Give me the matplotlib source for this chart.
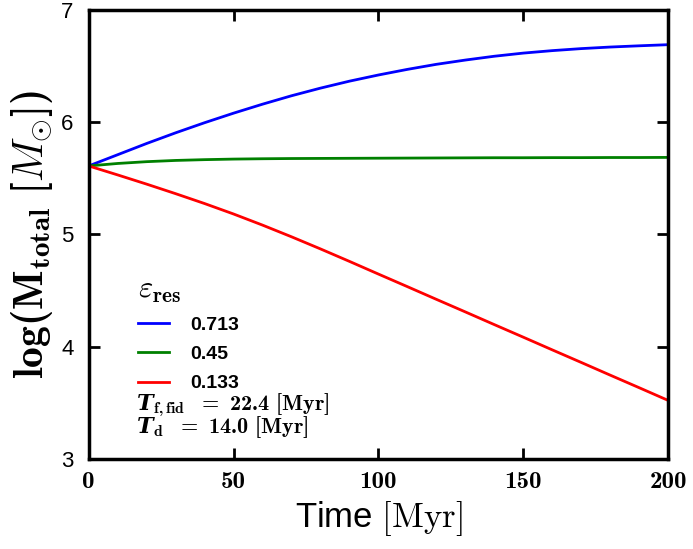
import numpy as np
import matplotlib
matplotlib.use("Agg")
import matplotlib.pyplot as plt

# Computer Modern pieces for math: bold digits need cmb10 directly
plt.rcParams['mathtext.fontset'] = 'custom'
plt.rcParams['mathtext.rm'] = 'cmr10'
plt.rcParams['mathtext.it'] = 'cmmi10'
plt.rcParams['mathtext.bf'] = 'cmb10'
plt.rcParams['mathtext.bfit'] = 'DejaVu Serif:italic:bold'
plt.rcParams['mathtext.fallback'] = 'cm'
plt.rcParams['font.family'] = ['Liberation Sans', 'DejaVu Sans']
plt.rcParams['axes.unicode_minus'] = False

# time grid [Myr] and log total mass for three retention efficiencies
time = [0, 10, 20, 30, 40, 50, 60, 70, 80, 90, 100, 110, 120, 130, 140, 150,
        160, 170, 180, 190, 200]
m_high = [5.61, 5.71, 5.81, 5.905, 5.995, 6.08, 6.16, 6.235, 6.303, 6.365, 6.42,
          6.47, 6.515, 6.553, 6.587, 6.615, 6.637, 6.655, 6.669, 6.68, 6.69]
m_mid = [5.61, 5.632, 5.648, 5.659, 5.666, 5.671, 5.674, 5.676, 5.677, 5.678,
         5.679, 5.680, 5.681, 5.682, 5.683, 5.683, 5.684, 5.684, 5.685, 5.685, 5.686]
m_low = [5.61, 5.53, 5.448, 5.363, 5.275, 5.182, 5.083, 4.979, 4.871, 4.760,
         4.647, 4.535, 4.422, 4.310, 4.197, 4.085, 3.972, 3.860, 3.747, 3.635, 3.522]
eps_labels = ['0.713', '0.45', '0.133']
colors = ['blue', 'green', 'red']
xticks = [0, 50, 100, 150, 200]
yticks = [3, 4, 5, 6, 7]
t_form, t_dyn = 22.4, 14.0

fig = plt.figure(figsize=(6.93, 5.49), dpi=100)
ax = fig.add_axes([0.128, 0.164, 0.836, 0.818])

for m, lab, c in zip([m_high, m_mid, m_low], eps_labels, colors):
    ax.plot(time, m, color=c, lw=2, label=lab)

ax.set_xlim(0, 200)
ax.set_ylim(3, 7)
ax.set_xticks(xticks)
ax.set_xticklabels([str(v) for v in xticks], fontsize=18, family='cmb10')
ax.set_yticks(yticks)
ax.tick_params(axis='y', labelsize=16, pad=11)
ax.tick_params(axis='x', pad=9)
ax.tick_params(direction='in', length=8, width=2, top=True, right=True)
for s in ax.spines.values():
    s.set_linewidth(2.5)

ax.set_xlabel(r'Time $[\mathrm{Myr}]$', fontsize=25, labelpad=4)
ax.set_ylabel(r'$\mathbf{log(M_{total}\ [}M_{\odot}\mathbf{])}$',
              fontsize=30, labelpad=4)

leg = ax.legend(title=r'$\varepsilon_{\mathbf{res}}$', loc='upper left',
                bbox_to_anchor=(0.085, 0.41), frameon=False, borderpad=0,
                borderaxespad=0, prop={'weight': 'bold', 'size': 14},
                handlelength=1.6, handletextpad=1.1, labelspacing=0.6)
leg.get_title().set_fontsize(22)
leg._legend_box.align = 'left'
leg._legend_box.sep = 8

note = (r'$\mathbfit{T}_{\mathbf{f,fid}}\ \ \mathbf{=\ %.1f\ [Myr]}$' % t_form + '\n' +
        r'$\mathbfit{T}_{\mathbf{d}}\ \ \mathbf{=\ %.1f\ [Myr]}$' % t_dyn)
ax.text(0.081, 0.058, note, transform=ax.transAxes, fontsize=16,
        va='baseline', linespacing=0.75)

fig.savefig('out.png', dpi=100)
